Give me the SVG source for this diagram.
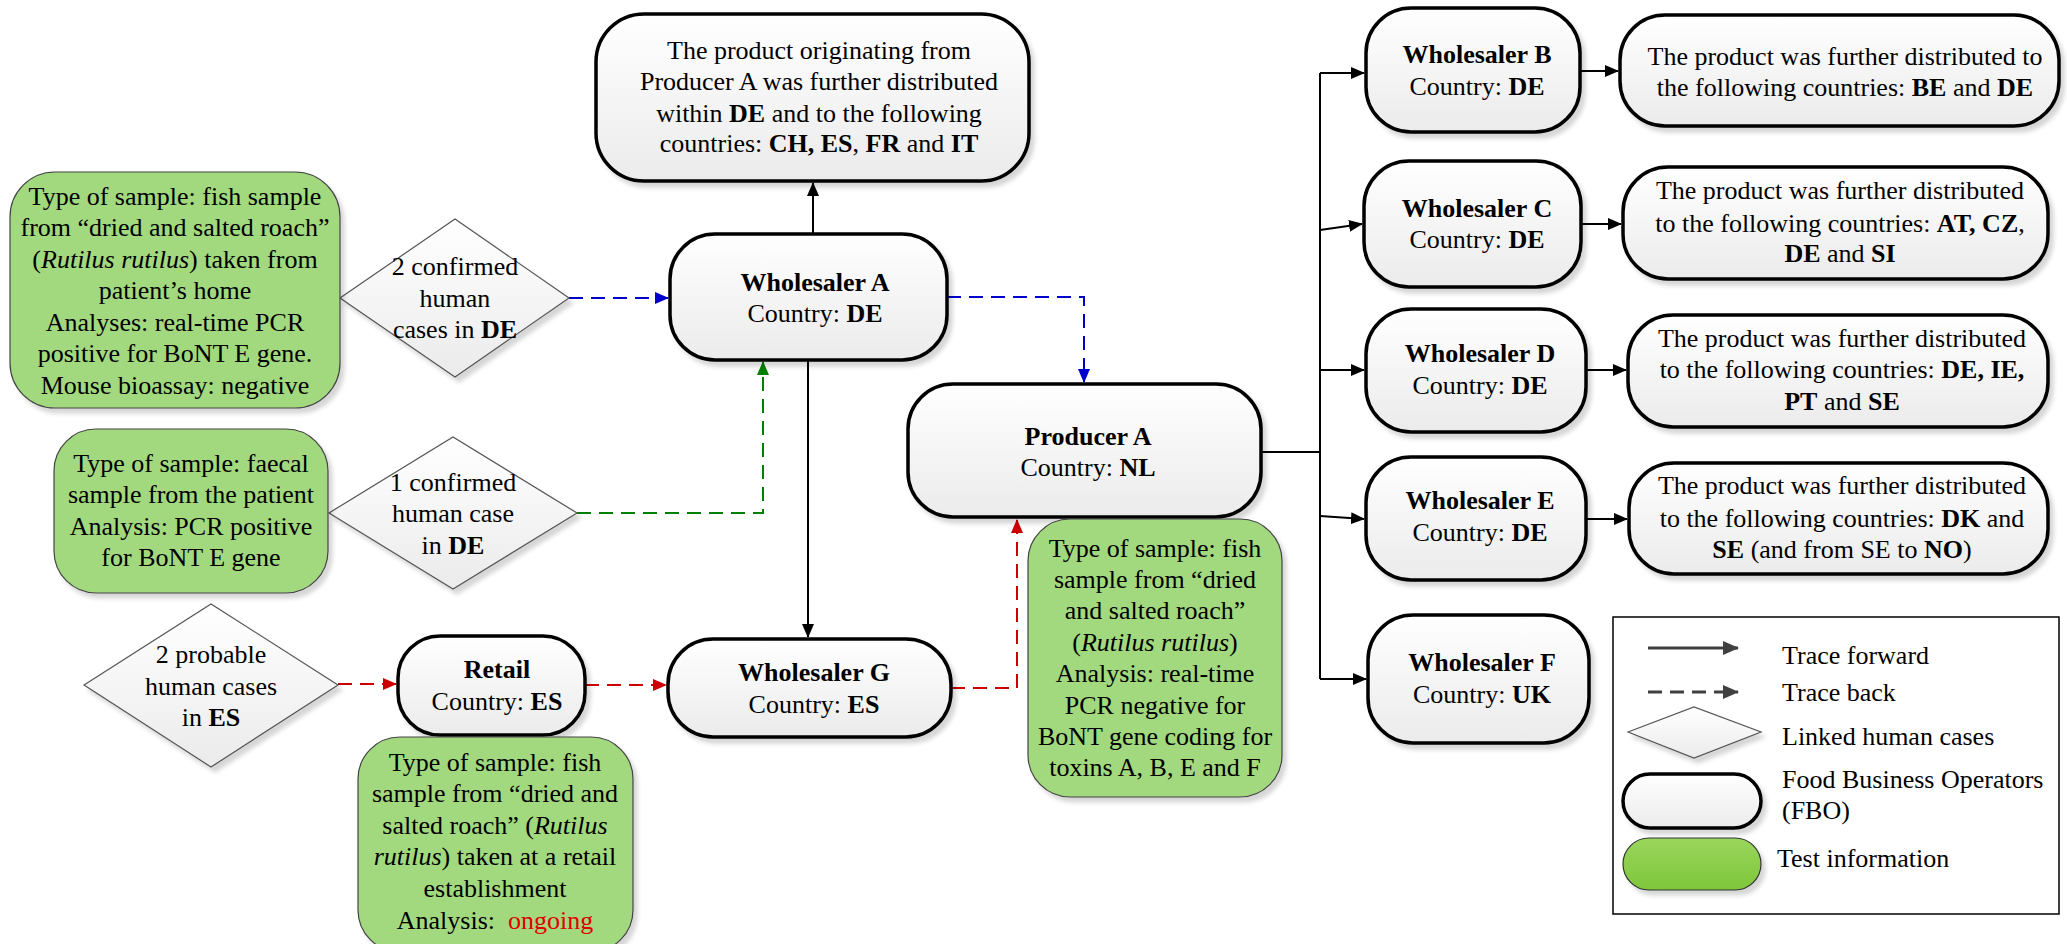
<svg xmlns="http://www.w3.org/2000/svg" width="2067" height="944" viewBox="0 0 2067 944">
<style>
text{font-family:"Liberation Serif","Times New Roman",serif;font-size:26px;fill:#000}
.m{text-anchor:middle}
.b{font-weight:bold}
.i{font-style:italic}
.fbo{fill:url(#gFbo);stroke:#000;stroke-width:3.5;filter:url(#sh)}
.test{fill:#A3D97E;stroke:#444;stroke-width:1.2;filter:url(#sh)}
.dia{fill:url(#gFbo);stroke:#555;stroke-width:1.2;filter:url(#sh)}
.fw{fill:none;stroke:#000;stroke-width:2}
.bk{fill:none;stroke-width:2;stroke-dasharray:14 8}
</style>
<defs>
<linearGradient id="gFbo" x1="0" y1="0" x2="0" y2="1"><stop offset="0" stop-color="#FFFFFF"/><stop offset="1" stop-color="#EBEBEB"/></linearGradient>
<linearGradient id="gGreen" x1="0" y1="0" x2="0" y2="1"><stop offset="0" stop-color="#9AD65C"/><stop offset="1" stop-color="#7EC63B"/></linearGradient>
<filter id="sh" x="-10%" y="-10%" width="125%" height="130%"><feDropShadow dx="4" dy="5" stdDeviation="2" flood-color="#000" flood-opacity="0.16"/></filter>
<marker id="aK" markerUnits="userSpaceOnUse" markerWidth="14" markerHeight="12" refX="13" refY="6" orient="auto"><path d="M0,0 L14,6 L0,12 z" fill="#000"/></marker>
<marker id="aB" markerUnits="userSpaceOnUse" markerWidth="14" markerHeight="12" refX="13" refY="6" orient="auto"><path d="M0,0 L14,6 L0,12 z" fill="#0000CC"/></marker>
<marker id="aG" markerUnits="userSpaceOnUse" markerWidth="14" markerHeight="12" refX="13" refY="6" orient="auto"><path d="M0,0 L14,6 L0,12 z" fill="#008000"/></marker>
<marker id="aR" markerUnits="userSpaceOnUse" markerWidth="14" markerHeight="12" refX="13" refY="6" orient="auto"><path d="M0,0 L14,6 L0,12 z" fill="#CC0000"/></marker>
<marker id="aL" markerUnits="userSpaceOnUse" markerWidth="16" markerHeight="14" refX="15" refY="7" orient="auto"><path d="M0,0 L16,7 L0,14 z" fill="#404040"/></marker>
</defs>

<g id="connectors">
<path class="fw" d="M813,234 V183" marker-end="url(#aK)"/>
<path class="fw" d="M808,360 V637" marker-end="url(#aK)"/>
<path class="bk" stroke="#0000CC" d="M569,298 H668" marker-end="url(#aB)"/>
<path class="bk" stroke="#0000CC" d="M947,297 H1084 V382" marker-end="url(#aB)"/>
<path class="bk" stroke="#008000" d="M577,513 H763 V362" marker-end="url(#aG)"/>
<path class="bk" stroke="#CC0000" d="M338,684 H396" marker-end="url(#aR)"/>
<path class="bk" stroke="#CC0000" d="M585,685 H666" marker-end="url(#aR)"/>
<path class="bk" stroke="#CC0000" d="M951,688 H1017 V520" marker-end="url(#aR)"/>
<path class="fw" d="M1261,452 H1320 M1320,73 V679"/>
<path class="fw" d="M1320,73 H1364" marker-end="url(#aK)"/>
<path class="fw" d="M1320,230 L1362,224" marker-end="url(#aK)"/>
<path class="fw" d="M1320,370 H1364" marker-end="url(#aK)"/>
<path class="fw" d="M1320,516 L1364,519" marker-end="url(#aK)"/>
<path class="fw" d="M1320,679 H1366" marker-end="url(#aK)"/>
<path class="fw" d="M1580,71 H1618" marker-end="url(#aK)"/>
<path class="fw" d="M1581,224 H1621" marker-end="url(#aK)"/>
<path class="fw" d="M1586,370 H1626" marker-end="url(#aK)"/>
<path class="fw" d="M1586,519 H1627" marker-end="url(#aK)"/>
</g>

<g id="top-box">
<rect class="fbo" x="596" y="14" width="433" height="167" rx="48"/>
<text class="m" x="819" y="59">The product originating from</text>
<text class="m" x="819" y="90">Producer A was further distributed</text>
<text class="m" x="819" y="122">within <tspan class="b">DE</tspan> and to the following</text>
<text class="m" x="819" y="152">countries: <tspan class="b">CH, ES</tspan>, <tspan class="b">FR</tspan> and <tspan class="b">IT</tspan></text>
</g>

<g id="wholesaler-a">
<rect class="fbo" x="670" y="234" width="277" height="126" rx="45"/>
<text class="m" x="815" y="291"><tspan class="b">Wholesaler A</tspan></text>
<text class="m" x="815" y="322">Country: <tspan class="b">DE</tspan></text>
</g>

<g id="producer-a">
<rect class="fbo" x="908" y="384" width="353" height="133" rx="45"/>
<text class="m" x="1088" y="445"><tspan class="b">Producer A</tspan></text>
<text class="m" x="1088" y="476">Country: <tspan class="b">NL</tspan></text>
</g>

<g id="wholesaler-g">
<rect class="fbo" x="668" y="639" width="283" height="98" rx="45"/>
<text class="m" x="814" y="681"><tspan class="b">Wholesaler G</tspan></text>
<text class="m" x="814" y="713">Country: <tspan class="b">ES</tspan></text>
</g>

<g id="retail">
<rect class="fbo" x="398" y="636" width="187" height="99" rx="42"/>
<text class="m" x="497" y="678"><tspan class="b">Retail</tspan></text>
<text class="m" x="497" y="710">Country: <tspan class="b">ES</tspan></text>
</g>

<g id="cases-1">
<polygon class="dia" points="340,298 455,219 569,298 455,377"/>
<text class="m" x="455" y="275">2 confirmed</text>
<text class="m" x="455" y="307">human</text>
<text class="m" x="455" y="338">cases in <tspan class="b">DE</tspan></text>
</g>

<g id="cases-2">
<polygon class="dia" points="329,513 453,437 577,513 453,589"/>
<text class="m" x="453" y="491">1 confirmed</text>
<text class="m" x="453" y="522">human case</text>
<text class="m" x="453" y="554">in <tspan class="b">DE</tspan></text>
</g>

<g id="cases-3">
<polygon class="dia" points="84,685 211,604 338,685 211,767"/>
<text class="m" x="211" y="663">2 probable</text>
<text class="m" x="211" y="695">human cases</text>
<text class="m" x="211" y="726">in <tspan class="b">ES</tspan></text>
</g>

<g id="test-1">
<rect class="test" x="10" y="172" width="330" height="236" rx="45"/>
<text class="m" x="175" y="205">Type of sample: fish sample</text>
<text class="m" x="175" y="236">from “dried and salted roach”</text>
<text class="m" x="175" y="268">(<tspan class="i">Rutilus rutilus</tspan>) taken from</text>
<text class="m" x="175" y="299">patient’s home</text>
<text class="m" x="175" y="331">Analyses: real-time PCR</text>
<text class="m" x="175" y="362">positive for BoNT E gene.</text>
<text class="m" x="175" y="394">Mouse bioassay: negative</text>
</g>

<g id="test-2">
<rect class="test" x="54" y="429" width="274" height="164" rx="42"/>
<text class="m" x="191" y="472">Type of sample: faecal</text>
<text class="m" x="191" y="503">sample from the patient</text>
<text class="m" x="191" y="535">Analysis: PCR positive</text>
<text class="m" x="191" y="566">for BoNT E gene</text>
</g>

<g id="test-3">
<rect class="test" x="358" y="737" width="275" height="215" rx="42"/>
<text class="m" x="495" y="771">Type of sample: fish</text>
<text class="m" x="495" y="802">sample from “dried and</text>
<text class="m" x="495" y="834">salted roach” (<tspan class="i">Rutilus</tspan></text>
<text class="m" x="495" y="865"><tspan class="i">rutilus</tspan>) taken at a retail</text>
<text class="m" x="495" y="897">establishment</text>
<text class="m" x="495" y="929">Analysis:&#160; <tspan fill="#E00000">ongoing</tspan></text>
</g>

<g id="test-4">
<rect class="test" x="1028" y="519" width="254" height="278" rx="42"/>
<text class="m" x="1155" y="557">Type of sample: fish</text>
<text class="m" x="1155" y="588">sample from “dried</text>
<text class="m" x="1155" y="619">and salted roach”</text>
<text class="m" x="1155" y="651">(<tspan class="i">Rutilus rutilus</tspan>)</text>
<text class="m" x="1155" y="682">Analysis: real-time</text>
<text class="m" x="1155" y="714">PCR negative for</text>
<text class="m" x="1155" y="745">BoNT gene coding for</text>
<text class="m" x="1155" y="776">toxins A, B, E and F</text>
</g>

<g id="wholesaler-b">
<rect class="fbo" x="1366" y="8" width="214" height="124" rx="45"/>
<text class="m" x="1477" y="63"><tspan class="b">Wholesaler B</tspan></text>
<text class="m" x="1477" y="95">Country: <tspan class="b">DE</tspan></text>
</g>
<g id="dist-b">
<rect class="fbo" x="1620" y="15" width="439" height="111" rx="45"/>
<text class="m" x="1845" y="65">The product was further distributed to</text>
<text class="m" x="1845" y="96">the following countries: <tspan class="b">BE</tspan> and <tspan class="b">DE</tspan></text>
</g>

<g id="wholesaler-c">
<rect class="fbo" x="1364" y="161" width="217" height="126" rx="45"/>
<text class="m" x="1477" y="217"><tspan class="b">Wholesaler C</tspan></text>
<text class="m" x="1477" y="248">Country: <tspan class="b">DE</tspan></text>
</g>
<g id="dist-c">
<rect class="fbo" x="1623" y="167" width="425" height="112" rx="45"/>
<text class="m" x="1840" y="199">The product was further distributed</text>
<text class="m" x="1840" y="232">to the following countries: <tspan class="b">AT, CZ</tspan>,</text>
<text class="m" x="1840" y="262"><tspan class="b">DE</tspan> and <tspan class="b">SI</tspan></text>
</g>

<g id="wholesaler-d">
<rect class="fbo" x="1366" y="309" width="220" height="123" rx="45"/>
<text class="m" x="1480" y="362"><tspan class="b">Wholesaler D</tspan></text>
<text class="m" x="1480" y="394">Country: <tspan class="b">DE</tspan></text>
</g>
<g id="dist-d">
<rect class="fbo" x="1628" y="315" width="420" height="112" rx="45"/>
<text class="m" x="1842" y="347">The product was further distributed</text>
<text class="m" x="1842" y="378">to the following countries: <tspan class="b">DE, IE,</tspan></text>
<text class="m" x="1842" y="410"><tspan class="b">PT</tspan> and <tspan class="b">SE</tspan></text>
</g>

<g id="wholesaler-e">
<rect class="fbo" x="1366" y="457" width="220" height="123" rx="45"/>
<text class="m" x="1480" y="509"><tspan class="b">Wholesaler E</tspan></text>
<text class="m" x="1480" y="541">Country: <tspan class="b">DE</tspan></text>
</g>
<g id="dist-e">
<rect class="fbo" x="1629" y="463" width="419" height="111" rx="45"/>
<text class="m" x="1842" y="494">The product was further distributed</text>
<text class="m" x="1842" y="527">to the following countries: <tspan class="b">DK</tspan> and</text>
<text class="m" x="1842" y="558"><tspan class="b">SE</tspan> (and from SE to <tspan class="b">NO</tspan>)</text>
</g>

<g id="wholesaler-f">
<rect class="fbo" x="1368" y="615" width="221" height="128" rx="45"/>
<text class="m" x="1482" y="671"><tspan class="b">Wholesaler F</tspan></text>
<text class="m" x="1482" y="703">Country: <tspan class="b">UK</tspan></text>
</g>

<g id="legend">
<rect x="1613" y="617" width="446" height="297" fill="#fff" stroke="#000" stroke-width="1.5"/>
<path d="M1648,648 H1738" stroke="#404040" stroke-width="3" fill="none" marker-end="url(#aL)"/>
<text x="1782" y="664">Trace forward</text>
<path d="M1648,692 H1738" stroke="#404040" stroke-width="3" stroke-dasharray="14 8" fill="none" marker-end="url(#aL)"/>
<text x="1782" y="701">Trace back</text>
<polygon class="dia" points="1628,732 1694,707 1761,732 1694,758"/>
<text x="1782" y="745">Linked human cases</text>
<rect class="fbo" x="1623" y="774" width="138" height="54" rx="27"/>
<text x="1782" y="788">Food Business Operators</text>
<text x="1782" y="819">(FBO)</text>
<rect x="1623" y="838" width="138" height="52" rx="26" fill="url(#gGreen)" stroke="#333" stroke-width="1.2" filter="url(#sh)"/>
<text x="1777" y="867">Test information</text>
</g>
</svg>
